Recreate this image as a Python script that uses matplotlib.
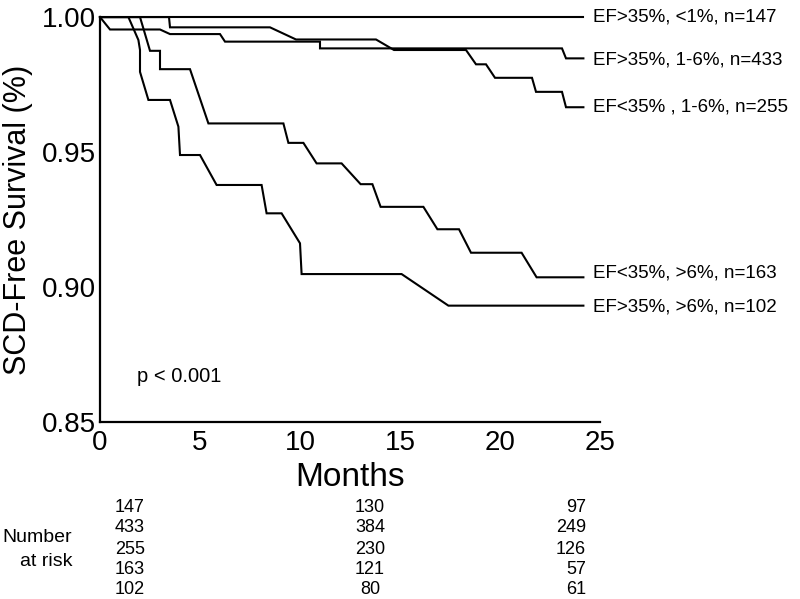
"""Kaplan-Meier style SCD-free survival curves with number at risk"""
import matplotlib
matplotlib.use('Agg')
import matplotlib.pyplot as plt

plt.rcParams['font.family'] = ['Liberation Sans', 'DejaVu Sans']

# curve vertices: (months, survival)
a_months = [0, 24.17]
a_surv = [1.0, 1.0]

b_months = [0, 0.5, 3.0, 3.5, 6.0, 6.25, 11.0, 11.0, 23.1, 23.3, 24.17]
b_surv = [1.0, 0.9954, 0.9954, 0.9937, 0.9937, 0.9909, 0.9909, 0.9884, 0.9884, 0.9847, 0.9847]

c_months = [0, 3.45, 3.5, 8.5, 9.8, 13.8, 14.7, 18.3, 18.8, 19.3, 19.75, 21.6, 21.8, 23.1, 23.3, 24.17]
c_surv = [1.0, 1.0, 0.9962, 0.9962, 0.9917, 0.9917, 0.9878, 0.9878, 0.9825, 0.9825, 0.9775,
          0.9775, 0.9723, 0.9723, 0.9666, 0.9666]

d_months = [0, 2.0, 2.5, 3.0, 3.0, 4.5, 5.42, 9.17, 9.42, 10.17, 10.83, 12.08, 13.03, 13.62,
            14.03, 16.17, 16.87, 17.95, 18.55, 21.08, 21.83, 24.17]
d_surv = [1.0, 1.0, 0.9875, 0.9875, 0.9807, 0.9807, 0.9606, 0.9606, 0.9534, 0.9534, 0.9458,
          0.9458, 0.9381, 0.9381, 0.9297, 0.9297, 0.9214, 0.9214, 0.9127, 0.9127, 0.9036, 0.9036]

e_months = [0, 1.42, 1.92, 2.0, 2.0, 2.42, 3.5, 3.92, 4.0, 5.0, 5.83, 8.08, 8.33, 9.08, 10.0,
            10.08, 15.08, 17.42, 24.17]
e_surv = [1.0, 1.0, 0.9915, 0.9878, 0.9797, 0.9693, 0.9693, 0.9594, 0.9489, 0.9489, 0.9378,
          0.9378, 0.9273, 0.9273, 0.9162, 0.9048, 0.9048, 0.8931, 0.8931]

labels = ['EF>35%, <1%, n=147', 'EF>35%, 1-6%, n=433', 'EF<35% , 1-6%, n=255',
          'EF<35%, >6%, n=163', 'EF>35%, >6%, n=102']

# number at risk at 0, ~12 and ~24 months
risk_0 = [147, 433, 255, 163, 102]
risk_12 = [130, 384, 230, 121, 80]
risk_24 = [97, 249, 126, 57, 61]

fig = plt.figure(figsize=(8, 5.99), dpi=100)
ax = fig.add_axes([0.125, 0.2955, 0.625, 0.676])

curves = [(a_months, a_surv), (b_months, b_surv), (c_months, c_surv),
          (d_months, d_surv), (e_months, e_surv)]
label_y = [1.0, 0.9841, 0.9667, 0.9052, 0.8926]
for (m, s), lab, ly in zip(curves, labels, label_y):
    ax.plot(m, s, color='black', lw=1.5, clip_on=False, solid_joinstyle='miter')
    ax.text(24.65, ly, lab, fontsize=13.5, va='center', ha='left')

ax.set_xlim(0, 25)
ax.set_ylim(0.85, 1.0)
ax.set_xticks([0, 5, 10, 15, 20, 25])
ax.set_yticks([0.85, 0.90, 0.95, 1.00])
ax.set_yticklabels(['0.85', '0.90', '0.95', '1.00'])
ax.tick_params(length=0, labelsize=20)
ax.tick_params(axis='x', pad=6)
ax.tick_params(axis='y', pad=3)
for side in ['top', 'right']:
    ax.spines[side].set_visible(False)
for side in ['left', 'bottom']:
    ax.spines[side].set_linewidth(1.6)

ax.set_xlabel('Months', fontsize=24, labelpad=4)
ax.set_ylabel('SCD-Free Survival (%)', fontsize=22, labelpad=6)
ax.text(1.85, 0.867, 'p < 0.001', fontsize=14.5, va='center')

# number at risk table
row_y = [507, 528, 549, 569, 589]
for i, y in enumerate(row_y):
    fy = 1 - y / 599
    fig.text(130 / 800, fy, str(risk_0[i]), fontsize=13, ha='center', va='center')
    fig.text(370 / 800, fy, str(risk_12[i]), fontsize=13, ha='center', va='center')
    fig.text(586 / 800, fy, str(risk_24[i]), fontsize=13, ha='right', va='center')
fig.text(72 / 800, 1 - 538 / 599, 'Number', fontsize=14, ha='right', va='center')
fig.text(72 / 800, 1 - 561 / 599, 'at risk', fontsize=14, ha='right', va='center')

fig.savefig('out.png', dpi=100)
